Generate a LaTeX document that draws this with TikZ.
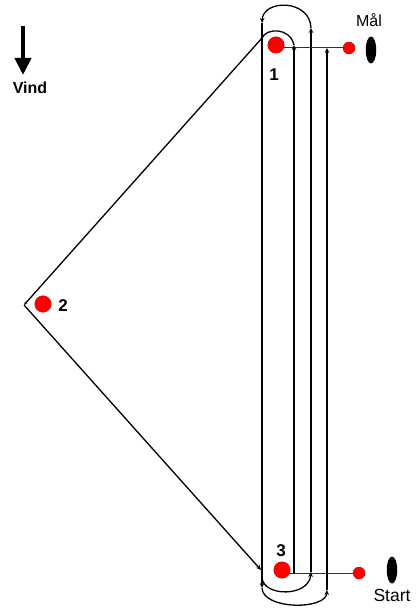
\documentclass[tikz,border=0pt]{standalone}
\usepackage{fontspec}
\setmainfont{Liberation Sans}
\usetikzlibrary{arrows.meta,shapes.geometric,backgrounds}
\begin{document}
\begin{tikzpicture}[x=1pt,y=-1pt,
  route/.style={line width=1.3pt, black},
  tip/.style={-{Stealth[length=5pt,width=4.5pt]}},
  smalltip/.style={-{Stealth[length=3.5pt,width=3pt]}},
  thinline/.style={line width=1pt, black!80},
  buoy/.style={circle, fill=red, draw=red!75!black, line width=0.4pt, minimum size=16.5pt, inner sep=0pt},
  pin/.style={circle, fill=red, draw=red!75!black, line width=0.4pt, minimum size=12pt, inner sep=0pt},
  boat/.style={ellipse, fill=black, minimum width=10.5pt, minimum height=27pt, inner sep=0pt},
  lbl/.style={font=\bfseries\fontsize{17}{17}\selectfont, inner sep=0pt},
  txt/.style={font=\fontsize{16}{16}\selectfont, inner sep=0pt}]
\useasboundingbox (0,0) rectangle (416,612);

% marks and boats
\node[buoy] (m1) at (276,45) {};
\node[buoy] (m2) at (43,304) {};
\node[buoy] (m3) at (282,570) {};
\node[pin] (p1) at (349,48) {};
\node[pin] (p3) at (359,573) {};
\node[boat] (b1) at (371,50) {};
\node[boat] (b3) at (392,570) {};

% labels
\node[lbl] (n1) at (274,75) {1};
\node[lbl] (n2) at (63,306) {2};
\node[lbl] (n3) at (281,551) {3};
\node[txt] (mal) at (369,20) {Mål};
\node[txt, font=\fontsize{17.5}{17.5}\selectfont] (start) at (392,595) {Start};
\node[lbl, font=\bfseries\fontsize{16}{16}\selectfont] (vind) at (30,88) {Vind};

% wind arrow
\coordinate (W1) at (23,26);
\coordinate (W2) at (23,75);
\draw[line width=4pt, -{Triangle[length=17pt,width=16pt]}] (W1) -- (W2);

% route points
\coordinate (A1) at (294,573);
\coordinate (A2) at (294,45);
\coordinate (T1) at (262,38);
\coordinate (V2) at (24,305);
\coordinate (B1) at (261,570);
\coordinate (B2) at (262,578);
\coordinate (C1) at (311,572);
\coordinate (C2) at (311,28);
\coordinate (D1) at (262,23);
\coordinate (D2) at (262,588);
\coordinate (E1) at (327,590);
\coordinate (E2) at (327,48);

\begin{scope}[on background layer]
  % start and finish lines
  \draw[thinline] (m1.center |- p1.center) -- (p1.center);
  \draw[thinline] (m3.center |- p3.center) -- (p3.center);
  % course
  \draw[route,tip] (A1) -- (A2);
  \draw[route] (A2) .. controls (290,27) and (266,28) .. (T1);
  \draw[route,smalltip] (T1) -- (V2);
  \draw[route,tip] (V2) -- (B1);
  \draw[route,tip] (B2) .. controls (264,597) and (309,597) .. (C1);
  \draw[route,tip] (C1) -- (C2);
  \draw[route,tip] (C2) .. controls (310,-1) and (263,-1) .. (D1);
  \draw[route,tip] (D1) -- (D2);
  \draw[route,tip] (D2) .. controls (263,610) and (326,610) .. (E1);
  \draw[route,tip] (E1) -- (E2);
\end{scope}
\end{tikzpicture}
\end{document}
